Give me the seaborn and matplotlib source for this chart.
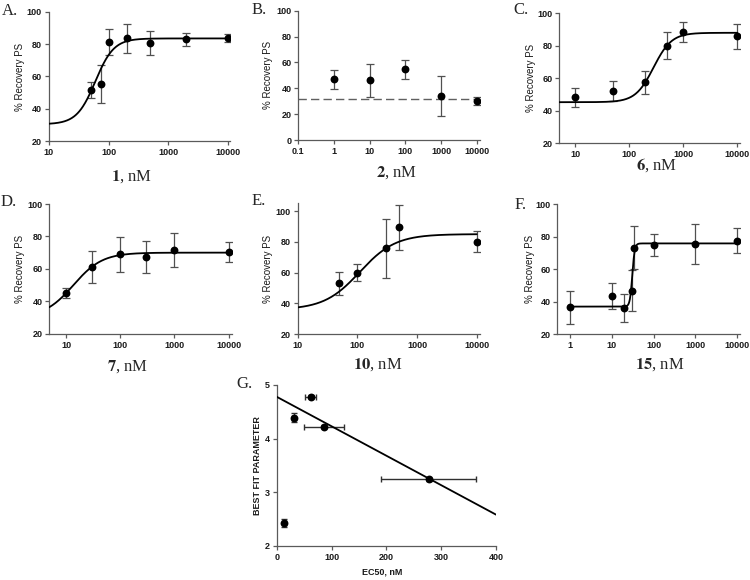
import numpy as np
import pandas as pd
import matplotlib
matplotlib.use('Agg')
import matplotlib.pyplot as plt
import seaborn as sns
from matplotlib.ticker import FixedLocator, FixedFormatter, NullLocator

sns.set_style('ticks')
plt.rcParams['font.family'] = ['Liberation Sans', 'DejaVu Sans']
plt.rcParams['mathtext.fontset'] = 'stix'

# ---------------- data ----------------
a_conc = [50, 75, 100, 200, 500, 2000, 10000]
a_resp = [51.7, 55.4, 81.5, 83.5, 80.9, 82.9, 83.5]
a_err = [5.2, 12.0, 8.0, 9.0, 7.4, 3.8, 2.5]
a_fit = [30.5, 83.5, 60.0, 2.8]          # bottom, top, EC50, hill

b_conc = [1, 10, 100, 1000, 10000]
b_resp = [46.9, 46.1, 54.6, 34.0, 29.9]
b_err = [7.5, 12.8, 7.3, 15.7, 3.1]
b_base = 31.4

c_conc = [10, 50, 200, 500, 1000, 10000]
c_resp = [48.3, 52.2, 57.5, 80.1, 88.5, 86.0]
c_err = [6.0, 6.4, 7.2, 8.2, 6.2, 7.7]
c_fit = [45.3, 88.0, 283.0, 2.6]

d_conc = [10, 30, 100, 300, 1000, 10000]
d_resp = [45.1, 61.3, 68.9, 67.3, 71.8, 70.6]
d_err = [3.0, 10.0, 11.0, 9.7, 10.6, 6.2]
d_fit = [30.0, 70.0, 13.7, 1.63]

e_conc = [50, 100, 300, 500, 10000]
e_resp = [53.1, 60.0, 75.8, 89.4, 80.1]
e_err = [7.6, 5.5, 19.3, 14.8, 7.0]
e_fit = [36.0, 85.0, 110.0, 1.45]

f_conc = [1, 10, 20, 30, 35, 100, 1000, 10000]
f_resp = [36.6, 43.5, 36.0, 46.6, 73.2, 74.8, 75.4, 77.5]
f_err = [10.2, 8.0, 8.5, 12.6, 13.0, 6.7, 12.4, 7.7]
f_fit = [37.0, 75.8, 31.0, 15.0]

g_ec50 = [14, 31, 62, 86, 277]
g_param = [2.42, 4.39, 4.78, 4.22, 3.24]
g_xerr = [3, 3, 10, 36, 87]
g_yerr = [0.07, 0.08, 0.03, 0.03, 0.03]
g_line = [4.78, -0.0055]                 # intercept, slope

compounds = ['1', '2', '6', '7', '10', '15']
letters = ['A.', 'B.', 'C.', 'D.', 'E.', 'F.', 'G.']

# ---------------- layout (pixels) ----------------
W, H = 750, 580
fig = plt.figure(figsize=(7.5, 5.8), dpi=100)


def add_ax(l, r, t, b):
    return fig.add_axes([l / W, 1 - b / H, (r - l) / W, (b - t) / H])


def fx(x):
    return x / W


def fy(y):
    return 1 - y / H


ERRC = '#505050'
SPINEC = '#5a5a5a'
TICKFS = 6.5


def style(ax, xt, xtl, yt, log=True):
    if log:
        ax.set_xscale('log')
    ax.xaxis.set_major_locator(FixedLocator(xt))
    ax.xaxis.set_major_formatter(FixedFormatter(xtl))
    ax.xaxis.set_minor_locator(NullLocator())
    ax.yaxis.set_major_locator(FixedLocator(yt))
    ax.yaxis.set_minor_locator(NullLocator())
    ax.tick_params(axis='both', direction='out', length=3, width=0.9,
                   labelsize=TICKFS, pad=2, color=SPINEC, labelcolor='#1a1a1a')
    for lab in ax.get_xticklabels() + ax.get_yticklabels():
        lab.set_fontweight('bold')
    sns.despine(ax=ax)
    for s in ['left', 'bottom']:
        ax.spines[s].set_linewidth(0.9)
        ax.spines[s].set_color(SPINEC)
    ax.set_xlabel('')
    ax.set_ylabel('')


def hill(x, p):
    bottom, top, ec, h = p
    return bottom + (top - bottom) / (1 + (ec / x) ** h)


def panel(ax, conc, resp, err, fit, xlo, xhi, curve_lo):
    ax.set_xscale('log')
    ax.errorbar(conc, resp, yerr=err, fmt='none', ecolor=ERRC, elinewidth=0.9,
                capsize=3, capthick=0.9, zorder=2)
    if fit is not None:
        xs = np.logspace(np.log10(curve_lo), np.log10(10000), 400)
        sns.lineplot(x=xs, y=hill(xs, fit), ax=ax, color='black', linewidth=1.3,
                     zorder=3)
    sns.scatterplot(x=conc, y=resp, ax=ax, color='black', s=32,
                    edgecolor='black', linewidth=0, zorder=4)
    ax.set_xlim(xlo, xhi)


# ---- A ----
axA = add_ax(48.8, 230, 11.7, 141.3)
panel(axA, a_conc, a_resp, a_err, a_fit, 10, 10 ** 4.03, 10)
axA.set_ylim(20, 100)
style(axA, [10, 100, 1000, 10000], ['10', '100', '1000', '10000'], [20, 40, 60, 80, 100])

# ---- B ----
axB = add_ax(298.3, 480, 10.7, 140)
panel(axB, b_conc, b_resp, b_err, None, 0.1, 10 ** 4.09, 0.1)
sns.lineplot(x=[0.1, 10 ** 4.09], y=[b_base, b_base], ax=axB, color='#606060',
             linewidth=1.0, linestyle=(0, (6, 3)), zorder=1)
axB.set_xlim(0.1, 10 ** 4.09)
axB.set_ylim(0, 100)
style(axB, [0.1, 1, 10, 100, 1000, 10000], ['0.1', '1', '10', '100', '1000', '10000'],
      [0, 20, 40, 60, 80, 100])

# ---- C ----
axC = add_ax(559.3, 740, 13.3, 143.3)
panel(axC, c_conc, c_resp, c_err, c_fit, 10 ** 0.71, 10 ** 4.05, 10 ** 0.71)
axC.set_ylim(20, 100)
style(axC, [10, 100, 1000, 10000], ['10', '100', '1000', '10000'], [20, 40, 60, 80, 100])

# ---- D ----
axD = add_ax(49.3, 232, 204, 333.7)
panel(axD, d_conc, d_resp, d_err, d_fit, 10 ** 0.692, 10 ** 4.06, 10 ** 0.692)
axD.set_ylim(20, 100)
style(axD, [10, 100, 1000, 10000], ['10', '100', '1000', '10000'], [20, 40, 60, 80, 100])

# ---- E ----
axE = add_ax(297.7, 480, 203.3, 334.3)
panel(axE, e_conc, e_resp, e_err, e_fit, 10, 10 ** 4.055, 10)
axE.set_ylim(20, 105)
style(axE, [10, 100, 1000, 10000], ['10', '100', '1000', '10000'], [20, 40, 60, 80, 100])

# ---- F ----
axF = add_ax(557.3, 740, 204, 334.3)
panel(axF, f_conc, f_resp, f_err, f_fit, 10 ** -0.304, 10 ** 4.07, 1)
axF.set_ylim(20, 100)
style(axF, [1, 10, 100, 1000, 10000], ['1', '10', '100', '1000', '10000'],
      [20, 40, 60, 80, 100])

# ---- G ----
axG = add_ax(276.7, 496, 385, 545.7)
axG.errorbar(g_ec50, g_param, xerr=g_xerr, yerr=g_yerr, fmt='none', ecolor='#303030',
             elinewidth=1.0, capsize=2.5, capthick=1.0, zorder=2)
gx = np.array([0, 400])
sns.lineplot(x=gx, y=g_line[0] + g_line[1] * gx, ax=axG, color='black',
             linewidth=1.3, zorder=3)
sns.scatterplot(x=g_ec50, y=g_param, ax=axG, color='black', s=32, linewidth=0, zorder=4)
axG.set_xlim(0, 400)
axG.set_ylim(2, 5)
style(axG, [0, 100, 200, 300, 400], ['0', '100', '200', '300', '400'], [2, 3, 4, 5], log=False)

# ---------------- texts ----------------
ylab_x = [20, 268, 531, 20, 268, 530]
axes6 = [axA, axB, axC, axD, axE, axF]
for ax, xpix in zip(axes6, ylab_x):
    bb = ax.get_position()
    fig.text(fx(xpix), bb.y0 + bb.height / 2, '% Recovery PS', rotation=90,
             fontsize=7, ha='center', va='center', color='#1a1a1a')

xlab_pos = [(132, 177), (397, 173), (657, 165), (128, 367), (378, 365), (660, 365)]
for comp, (px, py) in zip(compounds, xlab_pos):
    fig.text(fx(px), fy(py), r'$\mathbf{' + comp + '}$, nM', family='Liberation Serif',
             fontsize=12, ha='center', va='center')

letter_pos = [(2, 11), (252, 10), (513, 10), (1, 202), (252, 201), (515, 205), (236, 384)]
for lt, (px, py) in zip(letters, letter_pos):
    fig.text(fx(px), fy(py), lt, family='Liberation Serif', fontsize=12,
             ha='left', va='center')

fig.text(fx(382), fy(572), 'EC50, nM', fontsize=6.5, fontweight='bold',
         ha='center', va='center', color='#1a1a1a')
fig.text(fx(257), fy(466), 'BEST FIT PARAMETER', fontsize=6.5, fontweight='bold',
         rotation=90, ha='center', va='center', color='#1a1a1a')

fig.savefig('out.png', dpi=100, facecolor='white')
